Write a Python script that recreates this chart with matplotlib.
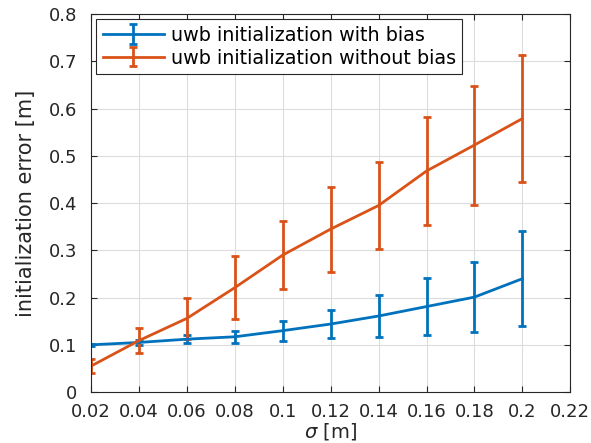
import matplotlib
matplotlib.use("Agg")
import matplotlib.pyplot as plt
from matplotlib.ticker import FuncFormatter, MultipleLocator

sigma = [0.02, 0.04, 0.06, 0.08, 0.10, 0.12, 0.14, 0.16, 0.18, 0.20]
with_bias = [0.100, 0.105, 0.112, 0.117, 0.130, 0.144, 0.161, 0.181, 0.201, 0.240]
with_bias_err = [0.002, 0.005, 0.008, 0.013, 0.021, 0.029, 0.045, 0.061, 0.074, 0.101]
without_bias = [0.055, 0.109, 0.156, 0.221, 0.290, 0.345, 0.395, 0.468, 0.523, 0.579]
without_bias_err = [0.015, 0.027, 0.044, 0.066, 0.072, 0.090, 0.092, 0.114, 0.126, 0.134]

blue = "#0072BD"
orange = "#D95319"

plt.rcParams['font.family'] = ['DejaVu Sans']
plt.rcParams['mathtext.fontset'] = 'dejavusans'

fig = plt.figure(figsize=(5.91, 4.43), dpi=100)
ax = fig.add_axes([0.154, 0.115, 0.811, 0.853])

ax.errorbar(sigma, with_bias, yerr=with_bias_err, color=blue, lw=2, elinewidth=2,
            capsize=3, capthick=2, label="uwb initialization with bias")
ax.errorbar(sigma, without_bias, yerr=without_bias_err, color=orange, lw=2, elinewidth=2,
            capsize=3, capthick=2, label="uwb initialization without bias")

ax.set_xlim(0.02, 0.22)
ax.set_ylim(0, 0.8)
ax.xaxis.set_major_locator(MultipleLocator(0.02))
ax.yaxis.set_major_locator(MultipleLocator(0.1))
fmt = FuncFormatter(lambda v, p: "%g" % round(v, 4))
ax.xaxis.set_major_formatter(fmt)
ax.yaxis.set_major_formatter(fmt)

ax.grid(True, color="#dcdcdc", lw=0.8)
ax.set_axisbelow(True)
ax.tick_params(direction="in", length=4, labelsize=13, colors="#262626",
               top=True, right=True, width=0.8)
ax.tick_params(axis="y", pad=10)
ax.tick_params(axis="x", pad=8)
for s in ax.spines.values():
    s.set_color("#262626")
    s.set_linewidth(0.8)

ax.set_xlabel(r"$\sigma$ [m]", fontsize=14, color="#262626", labelpad=0)
ax.set_ylabel("initialization error [m]", fontsize=15, color="#262626", labelpad=9)

leg = ax.legend(loc="upper left", fontsize=13.8, borderaxespad=0.25, fancybox=False,
                framealpha=1, edgecolor="#262626", handlelength=3.2,
                borderpad=0.35, labelspacing=0.2, handletextpad=0.35)
leg.get_frame().set_linewidth(0.8)

fig.savefig("out.png", dpi=100)
